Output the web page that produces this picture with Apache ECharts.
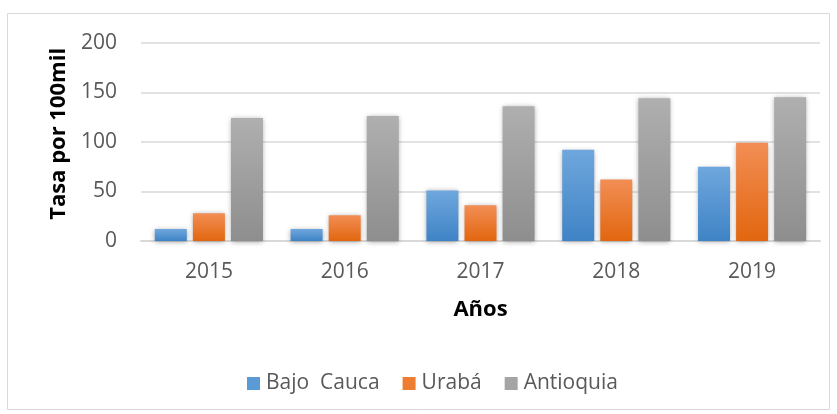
<!DOCTYPE html>
<html><head><meta charset="utf-8">
<script src="https://cdn.jsdelivr.net/npm/echarts@6/dist/echarts.min.js"></script>
<style>html,body{margin:0;padding:0;background:#fff}#c{width:837px;height:414px}</style>
</head><body><div id="c"></div>
<script>
var categories = ['2015','2016','2017','2018','2019'];
var bajoCauca = [12, 12, 51, 92, 75];
var uraba = [28, 26, 36, 62, 99];
var antioquia = [124, 126, 136, 144, 145];
var yTicks = [0, 50, 100, 150, 200];

var FONT = '"Open Sans"';
function grad(top, bottom){
  return new echarts.graphic.LinearGradient(0,0,0,1,[{offset:0,color:top},{offset:1,color:bottom}]);
}
function ser(name, data, top, bottom){
  return {
    name: name, type: 'bar', data: data, barWidth: 32, barGap: '19%',
    itemStyle: { color: grad(top, bottom), shadowBlur: 5, shadowColor: 'rgba(0,0,0,0.35)', shadowOffsetY: 1 },
    emphasis: { disabled: true }
  };
}
var chart = echarts.init(document.getElementById('c'));
chart.setOption({
  animation: false,
  backgroundColor: '#fff',
  color: ['#5b9bd5', '#ed7d31', '#a5a5a5'],
  graphic: [{ type: 'rect', shape: { x: 7.5, y: 13.5, width: 822, height: 396 }, style: { fill: 'none', stroke: '#d9d9d9', lineWidth: 1 } }],
  grid: { left: 141, right: 17, top: 42.7, bottom: 173, containLabel: false },
  legend: {
    left: 247, top: 373, padding: 0, itemWidth: 13, itemHeight: 13, itemGap: 23, icon: 'rect',
    textStyle: { fontFamily: FONT, fontSize: 21, color: '#595959', padding: [0,0,0,1] },
    data: [
      { name: 'Bajo  Cauca', itemStyle: { color: '#5b9bd5' } },
      { name: 'Urabá', itemStyle: { color: '#ed7d31' } },
      { name: 'Antioquia', itemStyle: { color: '#a5a5a5' } }
    ]
  },
  xAxis: {
    type: 'category', data: categories,
    name: 'Años', nameLocation: 'middle', nameGap: 58,
    nameTextStyle: { fontFamily: FONT, fontSize: 22, fontWeight: 'bold', color: '#000' },
    axisLine: { lineStyle: { color: '#d9d9d9', width: 2 } },
    axisTick: { show: false },
    axisLabel: { fontFamily: FONT, fontSize: 21, color: '#595959', margin: 21 }
  },
  yAxis: {
    type: 'value', min: 0, max: 200, interval: 50,
    name: 'Tasa por 100mil', nameLocation: 'middle', nameGap: 67, nameRotate: 90,
    nameTextStyle: { fontFamily: FONT, fontSize: 22, fontWeight: 'bold', color: '#000', padding: [0,0,0,16] },
    axisLine: { show: false }, axisTick: { show: false },
    axisLabel: { fontFamily: FONT, fontSize: 21, color: '#595959', margin: 24,
      formatter: function(v){ return yTicks.indexOf(v) >= 0 ? String(v) : ''; } },
    splitLine: { lineStyle: { color: '#d9d9d9', width: 1.5 } }
  },
  series: [
    ser('Bajo  Cauca', bajoCauca, '#6fa7dd', '#3f83c6'),
    ser('Urabá', uraba, '#f28e55', '#e2660f'),
    ser('Antioquia', antioquia, '#afafaf', '#8e8e8e')
  ]
});
</script></body></html>
